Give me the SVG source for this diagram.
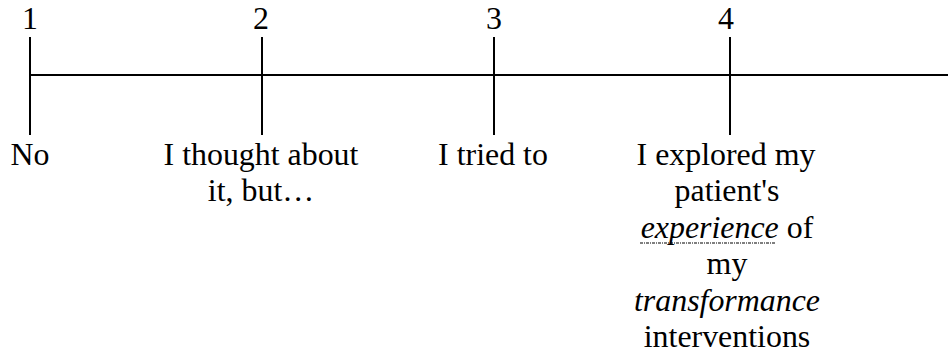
<svg xmlns="http://www.w3.org/2000/svg" width="948" height="356" viewBox="0 0 948 356">
<style>
.ln{stroke:#000;stroke-width:2;fill:none}
text{font-family:'Liberation Serif','Times New Roman',serif;font-size:31.9px;fill:#000;text-anchor:middle}
.i{font-style:italic}
.ul{stroke:#000;stroke-width:1.2;stroke-dasharray:3 1 1 1;fill:none}
</style>
<rect width="948" height="356" fill="#fff"/>
<g id="connectors">
<line class="ln" x1="30" y1="75" x2="948" y2="75"/>
</g>
<g id="point1">
<line class="ln" x1="30" y1="37" x2="30" y2="135"/>
<text x="30" y="29">1</text>
<text x="30" y="165">No</text>
</g>
<g id="point2">
<line class="ln" x1="262" y1="37" x2="262" y2="135"/>
<text x="261" y="29">2</text>
<text x="261" y="165">I thought about</text>
<text x="261" y="201">it, but…</text>
</g>
<g id="point3">
<line class="ln" x1="494" y1="37" x2="494" y2="135"/>
<text x="494" y="29">3</text>
<text x="493" y="165">I tried to</text>
</g>
<g id="point4">
<line class="ln" x1="730" y1="37" x2="730" y2="135"/>
<text x="726" y="29">4</text>
<text x="726" y="165">I explored my</text>
<text x="727" y="201">patient's</text>
<text x="727" y="238"><tspan class="i">experience</tspan> of</text>
<line class="ul" x1="640" y1="243" x2="776" y2="243"/>
<text x="727" y="274">my</text>
<text class="i" x="727" y="311">transformance</text>
<text x="727" y="347">interventions</text>
</g>
</svg>
